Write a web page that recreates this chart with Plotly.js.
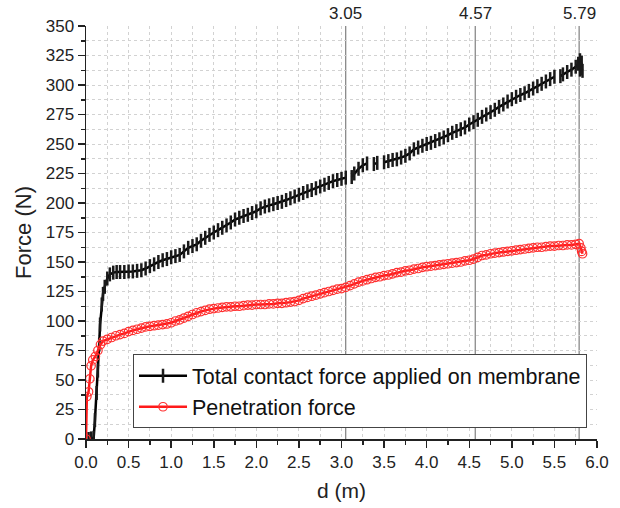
<!DOCTYPE html>
<html>
<head>
<meta charset="utf-8">
<script src="https://cdn.plot.ly/plotly-3.0.1.min.js"></script>
<style>html,body{margin:0;padding:0;background:#fff;}#chart{width:620px;height:508px;}</style>
</head>
<body>
<div id="chart"></div>
<script>
// Total contact force applied on membrane (black)
var totalD = [0.03,0.06,0.09,0.105,0.125,0.14,0.155,0.165,0.185,0.2,0.22,0.25,0.28,0.32,0.36,0.40,0.45,0.50,0.55,0.60,0.65,0.70,0.75,0.80,0.85,0.90,0.95,1.00,1.05,1.10,1.15,1.20,1.25,1.30,1.35,1.40,1.45,1.50,1.55,1.60,1.65,1.70,1.75,1.80,1.85,1.90,1.95,2.00,2.05,2.10,2.15,2.20,2.25,2.30,2.35,2.40,2.45,2.50,2.55,2.60,2.65,2.70,2.75,2.80,2.85,2.90,2.95,3.00,3.05,3.08,3.12,3.15,3.20,3.25,3.30,3.34,3.38,3.42,3.46,3.50,3.55,3.60,3.65,3.70,3.75,3.80,3.85,3.90,3.95,4.00,4.05,4.10,4.15,4.20,4.25,4.30,4.35,4.40,4.45,4.50,4.55,4.60,4.65,4.70,4.75,4.80,4.85,4.90,4.95,5.00,5.05,5.10,5.15,5.20,5.25,5.30,5.35,5.40,5.45,5.50,5.53,5.57,5.60,5.65,5.70,5.75,5.78,5.80,5.81,5.82,5.80,5.83,5.81];
var totalF = [0,0.5,1,16,39,58,80,97,114,123,129,136,139.5,141,141.5,141.5,141.5,142,142,142.5,143,144.5,146.5,148,150,151.5,152.5,154,155,156,159,162,163.5,165,168,170.5,173,175,177,179,181,183.5,186,187.5,189,190,191.5,193,195.5,197,198,199,200,201,202.5,204,205.5,207,208.5,210,211,212.5,214,215.5,217,218.5,219.5,220.5,221.5,null,222,225,229,232,233.5,null,233,234,null,234.5,235.5,236.5,237,238.5,240,242,245.5,247,248.5,250,251,252.5,254,255.5,257.5,259.5,261,262.5,264,266.5,268.5,270.5,273,275,277,279,281.5,283.5,286,288,290,291.5,293,295,297,299,301,303,305,307,null,307.5,309,311,313,315.5,318,321,316,319,313,312,314];

// Penetration force (red)
var penD = [0,0.01,0.03,0.045,0.06,0.08,0.11,0.14,0.17,0.2,0.25,0.3,0.35,0.4,0.45,0.5,0.55,0.6,0.65,0.7,0.75,0.8,0.85,0.9,0.95,1.0,1.05,1.1,1.15,1.2,1.25,1.3,1.35,1.4,1.45,1.5,1.55,1.6,1.65,1.7,1.75,1.8,1.85,1.9,1.95,2.0,2.05,2.1,2.15,2.2,2.25,2.3,2.35,2.4,2.45,2.5,2.55,2.6,2.65,2.7,2.75,2.8,2.85,2.9,2.95,3.0,3.05,3.1,3.15,3.2,3.25,3.3,3.35,3.4,3.45,3.5,3.55,3.6,3.65,3.7,3.75,3.8,3.85,3.9,3.95,4.0,4.05,4.1,4.15,4.2,4.25,4.3,4.35,4.4,4.45,4.5,4.55,4.6,4.65,4.7,4.75,4.8,4.85,4.9,4.95,5.0,5.05,5.1,5.15,5.2,5.25,5.3,5.35,5.4,5.45,5.5,5.55,5.6,5.65,5.7,5.75,5.79,5.81,5.82,5.83];
var penF = [0,36,40,51,62,67,70,75,80,83,84.5,86,87.5,88.5,89.5,91,92,93,94,95,95.5,96,96.5,97,97.5,98.5,100,101,102.5,104,105.5,107,108,109,110,110.5,111,111.5,112,112,112.5,112.5,113,113.5,113.5,114,114,114,114.5,114.5,115,115,115.5,116,116.5,117.5,119,120,121,122,123,124,125,126,127,127.5,128.5,130,131.5,133,134,135,136,137,137.5,138.5,139,140,141,141.5,142.5,143,144,144.5,145.5,146,146.5,147,147.5,148,148.5,149,149.5,150,151,151.5,152.5,154,155.5,156,157,157.5,158,158.5,159,159.5,160,160.5,161,161.5,162,162.5,162.5,163,163.5,163.5,164,164,164.5,164.5,165,165.5,162,159,157];

// Marked distances (top labels / vertical lines)
var markD = [3.05, 4.57, 5.79];
var markLabels = ['3.05', '4.57', '5.79'];

var seriesNames = ['Total contact force applied on membrane', 'Penetration force'];

var FONT = 'Liberation Sans, Arial, sans-serif';
var gridC = '#d2d2d2';
var axC = '#222';

var traces = [
  {x: totalD, y: totalF, name: seriesNames[0], type: 'scatter', mode: 'lines+markers', connectgaps: false,
   line: {color: '#000', width: 2.5},
   marker: {symbol: 'line-ns-open', size: 10, color: '#1a1a1a', line: {color: '#1a1a1a', width: 2.5}}},
  {x: penD, y: penF, name: seriesNames[1], type: 'scatter', mode: 'lines+markers',
   line: {color: '#ff1a1a', width: 2.5},
   marker: {symbol: 'circle-open', size: 8.5, color: '#ff3030', line: {color: '#ff3030', width: 1.2}}}
];

var shapes = markD.map(function (d) {
  return {type: 'line', xref: 'x', yref: 'paper', x0: d, x1: d, y0: 0, y1: 1,
          line: {color: '#666', width: 1}, layer: 'between'};
});

var annotations = markD.map(function (d, i) {
  return {xref: 'x', yref: 'paper', x: d, y: 1, yanchor: 'bottom', xanchor: 'center', yshift: 1,
          text: markLabels[i], showarrow: false, font: {size: 17, family: FONT, color: axC}};
});

var layout = {
  width: 620, height: 508,
  margin: {l: 86, r: 23, t: 26, b: 69},
  paper_bgcolor: '#fff', plot_bgcolor: '#fff',
  font: {family: FONT, color: axC, size: 17},
  showlegend: true,
  legend: {x: 0.092, y: 0.205, xanchor: 'left', yanchor: 'top', bgcolor: '#fff',
           bordercolor: '#444', borderwidth: 1, font: {size: 21.5, family: FONT, color: '#111'},
           tracegroupgap: 0, itemwidth: 48},
  xaxis: {range: [0, 6], dtick: 0.5, tick0: 0, tickformat: '.1f', ticks: 'outside', ticklen: 7, tickwidth: 1.5,
          tickcolor: axC, showline: true, linecolor: axC, linewidth: 1.5, zeroline: false,
          showgrid: true, gridcolor: gridC, griddash: 'dot', gridwidth: 1,
          minor: {dtick: 0.25, ticks: 'outside', ticklen: 4, tickwidth: 1.5, tickcolor: axC, showgrid: true, gridcolor: gridC, griddash: 'dot'},
          tickfont: {size: 17, family: FONT, color: axC},
          title: {text: 'd (m)', font: {size: 21, family: FONT, color: axC}, standoff: 12}},
  yaxis: {range: [0, 350], dtick: 25, tick0: 0, ticks: 'outside', ticklen: 7, tickwidth: 1.5,
          tickcolor: axC, showline: true, linecolor: axC, linewidth: 1.5, zeroline: false,
          showgrid: true, gridcolor: gridC, griddash: 'dot', gridwidth: 1,
          minor: {dtick: 12.5, ticks: 'outside', ticklen: 4, tickwidth: 1.5, tickcolor: axC, showgrid: true, gridcolor: gridC, griddash: 'dot'},
          tickfont: {size: 17, family: FONT, color: axC},
          title: {text: 'Force (N)', font: {size: 22, family: FONT, color: axC}, standoff: 8}},
  xaxis2: {overlaying: 'x', anchor: 'y', side: 'top', range: [0, 6], dtick: 0.5, tick0: 0,
           ticks: 'inside', ticklen: 7, tickwidth: 1.5, tickcolor: axC, showticklabels: false,
           showline: true, linecolor: axC, linewidth: 1.5, showgrid: false, zeroline: false,
           minor: {dtick: 0.25, ticks: 'inside', ticklen: 4, tickwidth: 1.5, tickcolor: axC, showgrid: false}},
  yaxis2: {overlaying: 'y', anchor: 'x', side: 'right', range: [0, 350], dtick: 25, tick0: 0,
           ticks: 'inside', ticklen: 7, tickwidth: 1.5, tickcolor: axC, showticklabels: false,
           showline: true, linecolor: axC, linewidth: 1.5, showgrid: false, zeroline: false,
           minor: {dtick: 12.5, ticks: 'inside', ticklen: 4, tickwidth: 1.5, tickcolor: axC, showgrid: false}},
  shapes: shapes,
  annotations: annotations
};

Plotly.newPlot('chart', traces, layout, {displayModeBar: false, staticPlot: true});
</script>
</body>
</html>
